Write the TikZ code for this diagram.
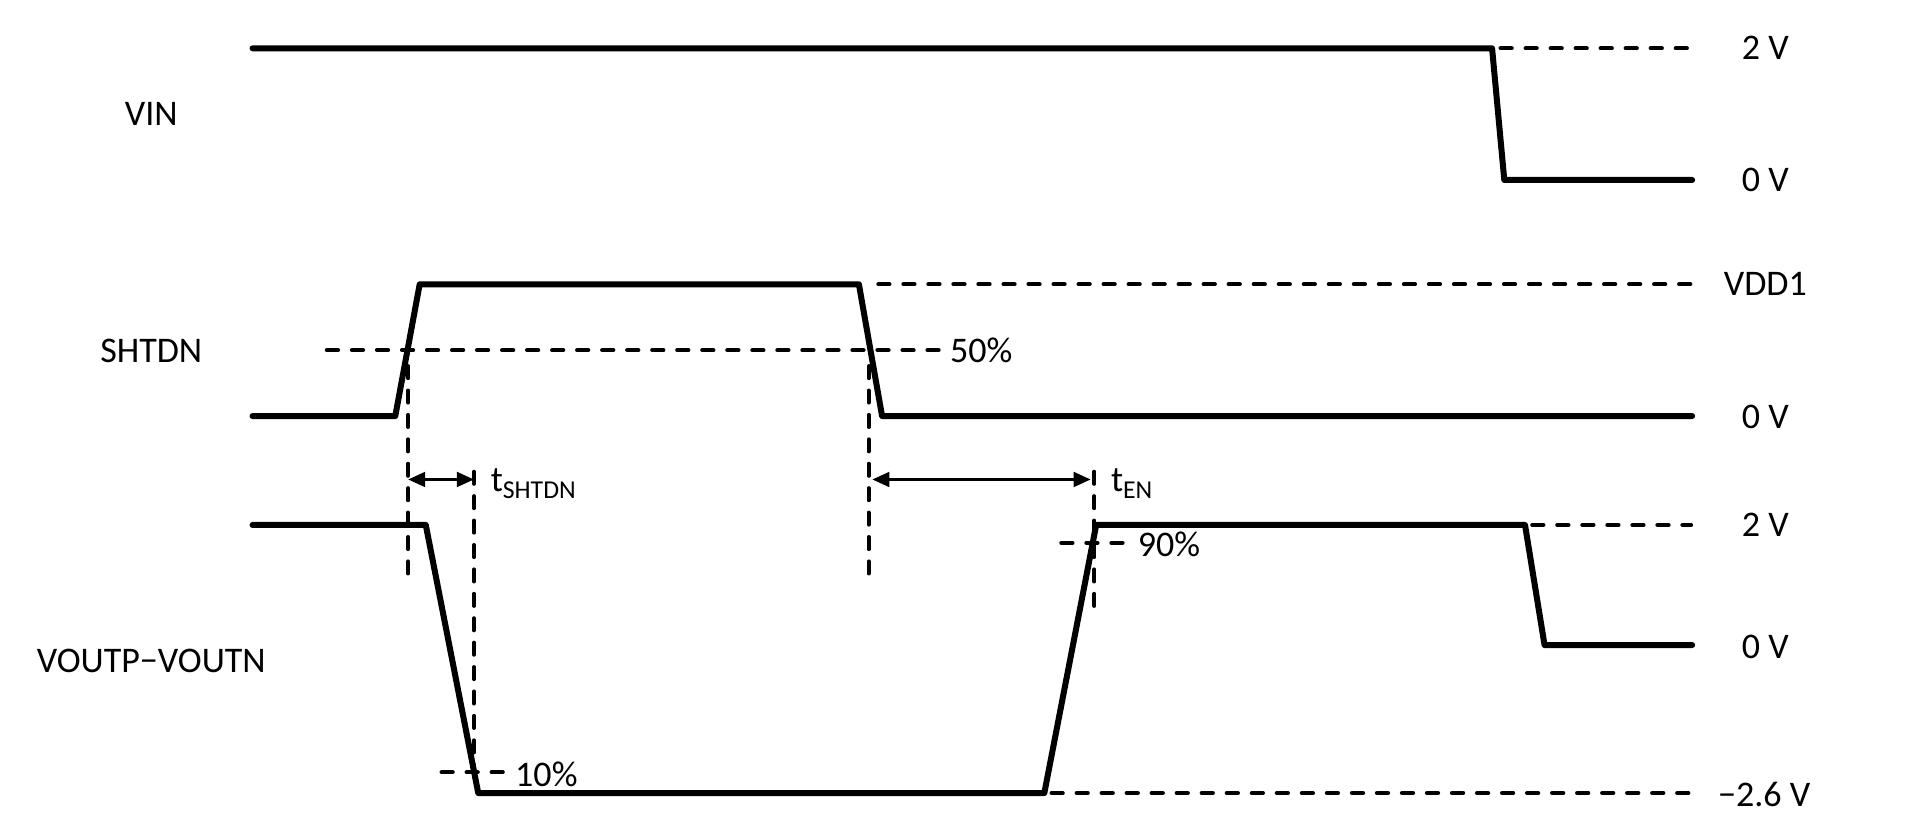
\documentclass[tikz,border=0pt]{standalone}
\usepackage{fontspec}
\setmainfont{Carlito}
\usetikzlibrary{arrows.meta, calc, positioning}

\tikzset{
  wave/.style={line width=1.4pt, line join=round, line cap=round},
  guide/.style={line width=1pt, line cap=round, dash pattern=on 0.09cm off 0.115cm},
  marker/.style={line width=0.9pt, line cap=round, dash pattern=on 0.1cm off 0.1cm},
  span/.style={<->, >={Triangle[length=0.14cm, width=0.12cm]}, line width=0.7pt},
  signame/.style={anchor=base, inner sep=0pt},
  level/.style={anchor=base, inner sep=0pt},
  pct/.style={anchor=base west, inner sep=0pt}
}
\newcommand{\tsub}[1]{t\raisebox{-1.7pt}{\fontsize{6}{7}\selectfont #1}}

\begin{document}
\begin{tikzpicture}[x=0.01cm, y=-0.01cm, font=\fontsize{8.4}{10}\selectfont]
    \useasboundingbox (0,0) rectangle (1568,687);

    % signal names
    \node[signame] (vin) at (124,103) {VIN};
    \node[signame] (shtdn) at (124,297) {SHTDN};
    \node[signame] (vout) at (124,551) {VOUTP−VOUTN};

    % levels on the right
    \node[level] (vinhi) at (1447,49) {2 V};
    \node[level] (vinlo) at (1447,157) {0 V};
    \node[level] (vdd) at (1447,242.6) {VDD1};
    \node[level] (shtdnlo) at (1447,351) {0 V};
    \node[level] (vouthi) at (1447,440) {2 V};
    \node[level] (voutlo) at (1447,540) {0 V};
    \node[level] (voutneg) at (1446,661) {−2.6 V};

    % waveforms
    \draw[wave] (207,39.6) -- (1223,39.6) -- (1233,147.5) -- (1387,147.5);
    \draw[wave] (207,341) -- (324,341) -- (344,233) -- (704,233) -- (723,341) -- (1387,341);
    \draw[wave] (207,430.3) -- (349,430.3) -- (392,650) -- (856,650) -- (898.5,430.3)
        -- (1250,430.3) -- (1266,528.7) -- (1387,528.7);

    % dashed levels
    \draw[guide] (1230,39.6) -- (1386,39.6);
    \draw[guide] (720,233) -- (1386,233);
    \draw[guide] (268,287) -- (771,287);
    \draw[guide] (1256,430.3) -- (1386,430.3);
    \draw[guide] (862,650) -- (1386,650);
    \draw[guide] (362,633) -- (415,633);
    \draw[guide] (870,445) -- (923,445);

    \node[pct] (half) at (778,297.5) {50\%};
    \node[pct] (low) at (421.6,645) {10\%};
    \node[pct] (high) at (932,456.5) {90\%};

    % timing markers
    \coordinate (offA) at (334.5,393);
    \coordinate (offB) at (388.5,393);
    \coordinate (enA) at (715,393);
    \coordinate (enB) at (894,393);

    \draw[marker] (334.5,300) -- (334.5,479.5);
    \draw[marker] (712,300) -- (712,479.5);
    \draw[marker] (388.5,386.6) -- (388.5,640);
    \draw[marker] (897,386.6) -- (897,498.6);

    \draw[span] (offA) -- (offB);
    \draw[span] (enA) -- (enB);

    \node[pct] (tshtdn) at (401.6,403) {\tsub{SHTDN}};
    \node[pct] (ten) at (910,403) {\tsub{EN}};

\end{tikzpicture}
\end{document}
